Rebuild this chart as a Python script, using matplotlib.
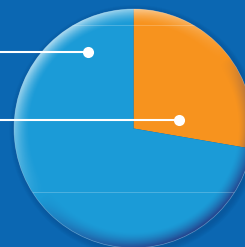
import numpy as np
import matplotlib
matplotlib.use("Agg")
import matplotlib.pyplot as plt
from matplotlib.patches import Circle

# data
labels = ["Blue share", "Orange share"]
shares = [72.3, 27.7]           # percent
slice_colors = ["#1b9bd7", "#f7931e"]
# leader dots: (angle in degrees, fraction of radius) for each slice
leader_angle = [120.5, 10.7]
leader_frac = [0.745, 0.385]

W, H = 245, 247
fig = plt.figure(figsize=(W / 100, H / 100), dpi=100)
fig.patch.set_facecolor("#0b67b2")
ax = fig.add_axes([0, 0, 1, 1])
ax.set_facecolor("#0b67b2")

cx, cy, R = 133.5, 118.5, 119.5

# soft outer shadow
for k in range(6):
    ax.add_patch(Circle((cx + 1.5, cy - 2), R + 6 - k, color="#083d7a",
                        alpha=0.06, zorder=1, lw=0))

# pie: orange first, clockwise from top
wedges, _ = ax.pie(shares[::-1], colors=slice_colors[::-1], startangle=90,
                   counterclock=False, center=(cx, cy), radius=R,
                   wedgeprops=dict(linewidth=0))
for w in wedges:
    w.set_zorder(2)
ax.set_xlim(0, W)
ax.set_ylim(0, H)
ax.set_aspect("equal")
ax.axis("off")

clip = Circle((cx, cy), R, transform=ax.transData)

# bevel overlay
n = 400
xs = np.linspace(cx - R, cx + R, n)
ys = np.linspace(cy + R, cy - R, n)
X, Y = np.meshgrid(xs, ys)
dx, dy = X - cx, Y - cy
r = np.hypot(dx, dy) / R
ang = np.arctan2(dy, dx)
lx, ly = -0.6, 0.8
light = (np.cos(ang) * lx + np.sin(ang) * ly)
edge = np.clip((r - 0.87) / 0.12, 0, 1) ** 1.5
rgba = np.zeros((n, n, 4))
hi = np.clip(light, 0, 1)
sh = np.clip(-light, 0, 1)
col_hi = np.array([1, 1, 1])
col_sh = np.array([0.15, 0.2, 0.5])
wsum = hi + sh + 1e-9
for c in range(3):
    rgba[..., c] = (col_hi[c] * hi + col_sh[c] * sh) / wsum
rgba[..., 3] = np.clip(edge * (0.6 * hi + 0.8 * sh ** 0.8), 0, 1)
im = ax.imshow(rgba, extent=(cx - R, cx + R, cy - R, cy + R), zorder=3,
               interpolation="bilinear")
im.set_clip_path(clip)

# faint horizontal lines
for yy in [222, 55]:
    ln, = ax.plot([0, W], [yy, yy], color="white", alpha=0.25, lw=0.6, zorder=4)
    ln.set_clip_path(Circle((cx, cy), R, transform=ax.transData))

# thin rim
ax.add_patch(Circle((cx, cy), R, fill=False, ec="white", alpha=0.3, lw=0.5, zorder=4))

# leader lines
for a, f in zip(leader_angle, leader_frac):
    px = cx + f * R * np.cos(np.radians(a))
    py = cy + f * R * np.sin(np.radians(a))
    ax.plot([0, px], [py, py], color="white", lw=1.5, zorder=5,
            solid_capstyle="butt")
    ax.plot([px], [py], "o", color="white", ms=8, zorder=6, mew=0)

fig.savefig("out.png", dpi=100, facecolor=fig.get_facecolor())
